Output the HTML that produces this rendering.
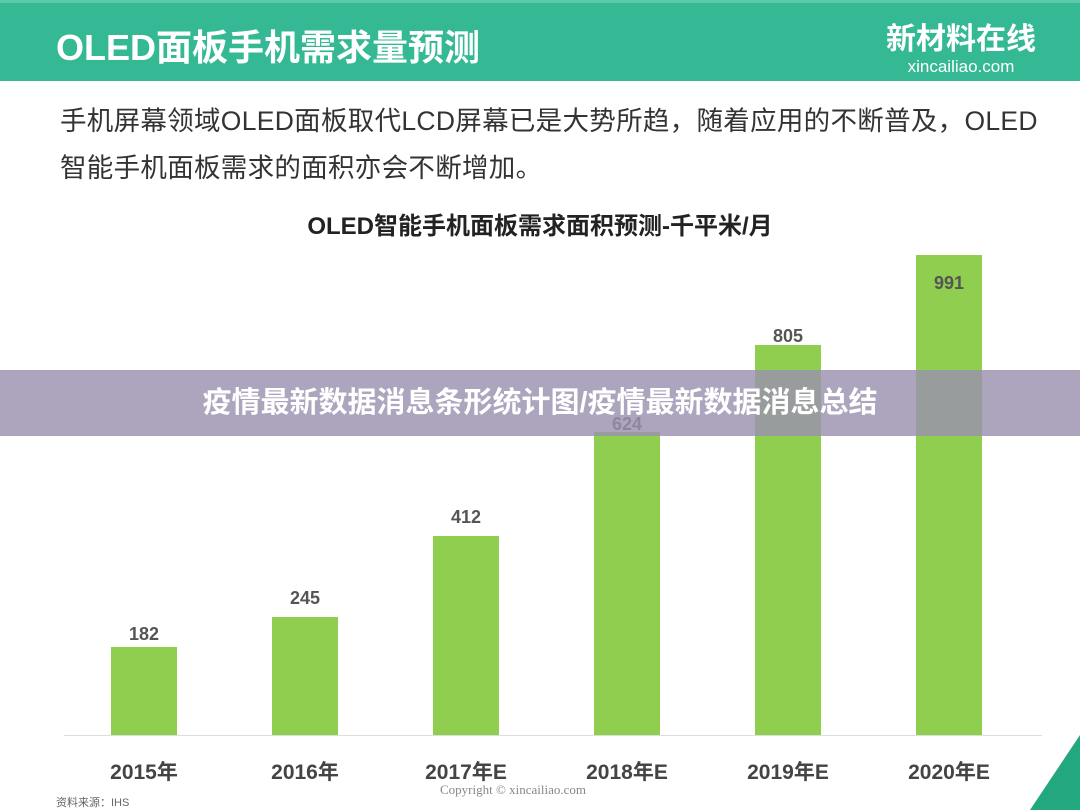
<!DOCTYPE html>
<html><head><meta charset="utf-8"><style>
body{margin:0;width:1080px;height:810px;overflow:hidden;background:#fff;font-family:"Liberation Sans","Noto Sans CJK SC",sans-serif;position:relative}
.hdr{position:absolute;left:0;top:0;width:1080px;height:81px;background:#35b994;border-top:3px solid #5cc9a8;box-sizing:border-box}
.ht{position:absolute;left:56px;top:16px;color:#fff;font-size:36px;font-weight:bold}
.logo{position:absolute;right:44px;top:20px;color:#fff;text-align:center}
.p{position:absolute;left:60px;font-size:26.5px;color:#333;white-space:nowrap;letter-spacing:0.3px}
.ct{position:absolute;left:0;width:1080px;text-align:center;top:206px;font-size:24px;font-weight:bold;color:#222}
.bar{position:absolute;width:66px;background:#8fce4e}
.v{position:absolute;width:100px;text-align:center;font-size:18px;font-weight:bold;color:#555}
.x{position:absolute;width:140px;text-align:center;top:756px;font-size:21px;font-weight:bold;color:#444}
.ban{position:absolute;left:0;top:370px;width:1080px;height:66px;background:rgba(155,145,175,0.82);color:#fff;font-size:29px;font-weight:bold;text-align:center;line-height:66px}
</style></head><body>
<div class="hdr"><div class="ht">OLED面板手机需求量预测</div>
<div class="logo"><div style="font-size:30px;font-weight:bold;line-height:34px">新材料在线</div><div style="font-size:17px">xincailiao.com</div></div></div>
<div class="p" style="top:99px">手机屏幕领域OLED面板取代LCD屏幕已是大势所趋，随着应用的不断普及，OLED</div>
<div class="p" style="top:146px">智能手机面板需求的面积亦会不断增加。</div>
<div class="ct">OLED智能手机面板需求面积预测-千平米/月</div>
<div style="position:absolute;left:64px;top:735px;width:978px;height:1px;background:#ddd"></div>
<div class="bar" style="left:111px;top:647px;height:88px"></div><div class="v" style="left:94px;top:624px">182</div>
<div class="bar" style="left:272px;top:617px;height:118px"></div><div class="v" style="left:255px;top:588px">245</div>
<div class="bar" style="left:433px;top:536px;height:199px"></div><div class="v" style="left:416px;top:507px">412</div>
<div class="bar" style="left:594px;top:432px;height:303px"></div><div class="v" style="left:577px;top:414px">624</div>
<div class="bar" style="left:755px;top:345px;height:390px"></div><div class="v" style="left:738px;top:326px">805</div>
<div class="bar" style="left:916px;top:255px;height:480px"></div><div class="v" style="left:899px;top:273px">991</div>
<div class="x" style="left:74px">2015年</div><div class="x" style="left:235px">2016年</div><div class="x" style="left:396px">2017年E</div><div class="x" style="left:557px">2018年E</div><div class="x" style="left:718px">2019年E</div><div class="x" style="left:879px">2020年E</div>
<div style="position:absolute;left:56px;top:794px;font-size:11px;color:#666">资料来源：IHS</div>
<div style="position:absolute;left:440px;top:782px;font-size:13px;color:#888;font-family:'Liberation Serif',serif">Copyright © xincailiao.com</div>
<svg style="position:absolute;left:1030px;top:735px" width="50" height="75"><polygon points="50,0 50,75 0,75" fill="#22a77f"/></svg>
<div class="ban">疫情最新数据消息条形统计图/疫情最新数据消息总结</div>
</body></html>
